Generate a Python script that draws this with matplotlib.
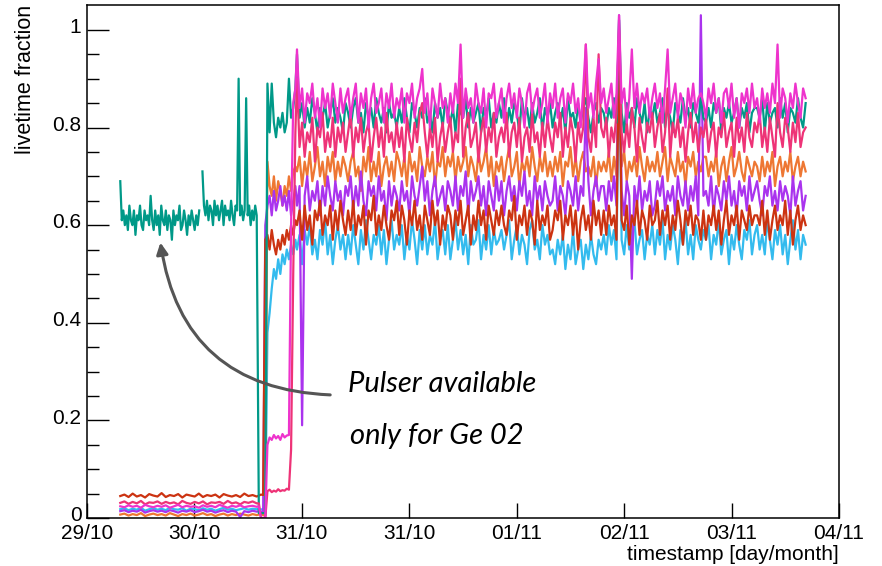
import numpy as np
import matplotlib

matplotlib.use("Agg")
import matplotlib.pyplot as plt
from matplotlib.transforms import ScaledTranslation

plt.rcParams["font.family"] = ["Liberation Sans", "DejaVu Sans"]

# x is measured in tick intervals (tick k sits at x = k)
tick_labels = ["29/10", "30/10", "31/10", "31/10", "01/11", "02/11", "03/11", "04/11"]

# time grids: before the pulser switch, the switch itself, steady running
t_low = np.linspace(0.31, 1.58, 34)
t_mid = np.linspace(1.60, 1.94, 18)
t_main = np.linspace(1.955, 6.69, 200)
t_ge02_a = np.linspace(0.31, 1.045, 53)
t_ge02_b = np.linspace(1.075, 1.58, 37)

# Ge 02 (teal) before the switch, hundredths
ge02_a = ("69 61 63 60 62 59 64 61 60 63 58 62 61 64 60 59 63 61 62 60 "
          "66 61 59 63 60 62 58 64 61 60 63 59 62 61 57 63 60 62 61 64 "
          "59 60 63 61 58 62 60 63 61 59 62 60 63")
ge02_b = ("71 64 62 65 61 64 63 60 65 62 64 61 63 65 60 64 62 63 61 65 "
          "62 60 64 63 90 62 64 61 63 86 62 64 60 63 61 64 62")

# other channels before the switch, thousandths
low = {
    "red": "45 48 43 50 44 47 42 49 46 44 51 43 47 45 49 42 48 46 44 50 43 47 45 48 42 49 46 44 47 43 50 45 47 44",
    "rose": "31 34 29 33 30 35 28 32 31 34 29 33 30 32 28 35 31 29 33 30 34 28 32 31 33 29 35 30 32 28 33 31 34 30",
    "magenta": "24 22 26 23 25 21 27 24 22 25 23 26 21 24 27 22 25 23 24 21 26 23 25 22 27 24 21 25 23 26 22 24 25 23",
    "cyan": "18 20 16 19 17 21 15 18 20 17 19 16 21 18 17 20 15 19 18 16 20 17 19 15 18 21 17 19 16 18 20 17 19 18",
    "purple": "14 16 12 15 13 17 11 14 16 13 15 12 16 14 11 15 13 16 12 14 17 13 15 11 14 16 12 15 13 2 14 12 15 13",
    "orange": "7 9 5 8 6 10 4 7 9 6 8 5 10 7 4 8 6 9 5 7 10 6 8 4 7 9 5 8 6 9 7 5 8 6",
}

# switch period, hundredths
mid = {
    "teal": "1 1 1 1 89 79 89 81 78 82 80 83 79 81 90 82 84 88",
    "cyan": "1.8 1.7 1.9 0.5 38 42 47 51 49 53 50 54 52 55 53 56 54 57",
    "purple": "1.4 1.3 1.2 60 64 66 62 67 63 65 68 64 66 63 67 62 65 68",
    "orange": "0.7 0.8 0.6 0.5 73 68 66 70 65 69 67 64 68 66 70 67 71 72",
    "red": "4.6 4.8 4.7 57 58 55 59 56 54 57 55 58 56 59 57 60 58 61",
    "rose": "3.0 0 0 0 5.5 5.8 5.3 5.6 5.4 5.9 5.5 5.7 5.6 6.0 5.8 14 50 79",
    "magenta": "2.4 0 0 0 15 16.5 16 17 16.3 16.8 16 17.2 16.5 16.9 17 60 85 88",
}

# steady running, hundredths
main = {
    "cyan": """
55 58 52 59 56 60 54 57 53 59 56 61 54 58 52 57 60 55 58 53
58 54 60 56 52 59 55 61 57 53 58 56 60 54 59 52 57 61 55 58
56 60 53 58 55 61 57 52 59 55 60 54 58 56 61 53 57 59 54 60
53 57 61 55 59 54 58 52 60 56 57 61 53 58 55 60 54 59 56 57
59 55 58 61 53 57 60 54 58 56 52 59 61 55 57 53 60 56 58 54
55 52 57 54 58 51 56 53 59 52 55 57 51 56 53 58 54 52 57 55
58 54 60 56 59 53 97 57 54 60 55 58 61 54 57 59 53 58 56 60
54 59 56 61 53 58 55 60 57 52 59 56 61 54 58 53 60 57 55 59
57 60 53 58 56 61 54 57 59 52 58 55 60 56 53 59 57 61 54 58
60 55 58 54 61 57 53 59 56 60 54 58 52 57 61 55 59 53 58 56""",
    "orange": """
71 74 68 73 70 75 69 72 76 70 73 68 74 71 75 69 73 70 74 72
69 73 75 70 72 67 74 71 76 69 73 70 75 68 72 74 70 73 69 75
73 70 74 68 75 71 73 69 76 72 70 74 71 75 68 73 72 76 70 74
72 75 69 74 71 73 76 70 74 72 69 75 71 73 76 70 74 68 73 71
74 69 73 76 70 72 75 68 73 71 74 70 76 72 69 74 71 75 70 73
70 74 71 75 68 73 72 76 70 74 69 73 75 71 72 70 74 68 73 71
73 71 75 69 74 70 98 72 75 69 73 71 74 70 76 72 69 74 71 73
71 75 70 73 76 69 74 72 70 75 71 73 68 74 72 75 70 73 71 74
74 70 73 71 75 68 72 74 69 73 76 70 72 75 71 69 74 72 70 73
72 69 74 70 73 71 75 68 72 74 70 73 71 75 69 72 74 70 73 71""",
    "purple": """
64 68 19 66 70 63 67 65 69 62 68 64 70 66 63 69 65 67 62 68
66 70 63 68 64 71 65 62 69 66 68 63 70 65 67 61 69 64 68 66
63 69 65 67 62 70 66 64 68 72 65 69 62 67 70 64 66 68 63 69
67 64 70 63 68 66 71 62 69 65 67 70 64 68 62 69 66 63 70 65
69 62 67 70 65 68 63 69 66 71 64 67 62 70 65 68 63 69 66 64
65 70 63 68 66 62 69 67 64 70 63 68 66 84 69 62 67 70 65 68
68 63 69 65 70 64 103 67 62 69 66 49 68 64 70 63 67 65 69 62
64 69 66 70 63 67 65 68 62 70 66 64 69 63 68 65 70 62 103 66
67 64 70 62 68 66 63 69 65 70 64 67 62 69 66 68 63 70 65 67
69 65 62 68 66 70 64 67 63 69 65 68 66 62 70 64 67 69 63 66""",
    "red": """
60 63 57 64 59 62 56 63 61 65 58 62 60 64 57 63 59 65 61 58
63 59 65 58 62 60 64 56 63 61 66 58 62 59 64 60 57 63 61 65
58 64 61 56 63 60 65 59 62 57 64 61 58 65 60 63 56 62 59 64
62 57 63 60 65 58 61 64 56 62 59 65 60 63 57 64 61 58 63 60
64 60 58 63 61 66 57 62 60 64 58 63 61 56 65 59 62 60 64 57
59 63 61 65 57 62 60 64 58 63 55 61 64 59 62 57 65 60 63 58
63 58 64 60 62 57 98 61 59 64 56 62 60 65 58 63 61 57 64 60
61 65 58 63 60 64 57 62 59 65 61 56 63 60 64 58 62 61 57 63
57 62 60 64 59 63 56 61 65 58 62 60 64 57 63 61 59 64 60 62
62 60 65 58 63 57 61 64 59 62 60 65 58 63 56 61 64 59 62 60""",
    "teal": """
95 82 85 80 84 81 86 83 79 84 82 85 80 83 86 81 84 82 79 85
83 80 84 86 81 83 79 85 82 84 80 86 83 81 84 79 85 82 83 80
84 81 86 82 79 85 83 80 84 82 86 81 83 79 85 82 84 80 86 83
81 84 79 85 83 82 86 80 84 81 83 85 79 84 82 86 80 83 81 85
82 86 80 84 81 85 83 79 86 82 84 80 85 81 83 86 79 84 82 85
80 83 85 81 84 79 86 82 83 80 85 81 84 86 82 79 83 85 81 84
83 80 84 82 86 81 102 83 79 85 82 84 80 86 83 81 85 79 84 82
85 81 83 86 80 84 82 79 85 83 81 86 82 84 80 85 83 81 86 82
81 84 80 85 83 86 79 84 82 85 81 83 86 80 84 82 85 79 83 84
84 82 86 79 85 81 83 84 80 86 82 85 79 84 83 81 86 82 80 85""",
    "rose": """
90 76 81 74 79 77 82 73 80 78 83 75 79 76 82 74 80 77 81 75
79 83 74 80 77 82 75 79 81 73 78 82 76 80 74 83 77 79 75 81
76 80 73 82 78 75 81 77 83 85 79 74 80 76 82 73 78 81 75 79
82 75 79 77 90 74 80 83 76 78 81 73 79 82 75 80 77 83 74 78
80 77 83 74 79 81 76 82 73 78 80 75 83 77 79 74 81 76 82 78
75 81 78 83 74 80 76 82 79 73 81 77 80 97 78 75 82 76 95 80
78 82 74 80 77 83 100 79 75 81 76 84 80 73 82 78 75 81 79 83
76 80 83 75 79 88 74 81 78 82 76 80 73 79 83 77 81 75 80 78
82 75 79 81 74 80 78 83 76 79 81 74 82 77 80 75 83 78 76 81
79 83 76 80 75 82 78 74 85 79 76 82 80 75 81 77 83 76 79 80""",
    "magenta": """
96 84 88 81 87 85 89 82 86 80 88 84 87 82 89 85 81 88 83 86
88 82 86 89 81 87 84 88 80 86 89 83 85 88 81 87 84 89 82 86
84 88 81 87 85 89 82 86 88 92 83 87 80 88 85 82 89 84 86 81
87 83 89 85 97 82 88 84 86 81 89 85 83 88 80 87 86 89 82 85
88 81 86 89 84 87 82 88 85 80 87 89 83 86 88 82 85 89 81 87
84 89 82 86 88 81 87 85 89 83 86 80 88 97 84 87 82 89 94 85
88 83 86 89 82 87 103 85 88 81 86 96 84 89 83 87 85 88 82 86
89 84 87 81 88 96 83 86 89 82 87 85 80 88 84 89 83 86 87 85
82 88 85 89 83 86 81 87 88 84 89 82 86 80 87 85 88 83 89 84
86 81 88 84 87 83 89 85 97 82 88 86 81 87 84 89 85 82 88 86""",
}

colors = {
    "cyan": "#33bbee",
    "orange": "#ee7733",
    "purple": "#aa33ee",
    "red": "#cc3311",
    "teal": "#009988",
    "rose": "#ee3377",
    "magenta": "#ee33cc",
}
draw_order = ["cyan", "orange", "purple", "red", "teal", "rose", "magenta"]


def nums(s, scale):
    return np.array(s.split(), dtype=float) / scale


fig = plt.figure(figsize=(8.82, 5.66), dpi=100)
ax = fig.add_axes([0.0986, 0.0848, 0.8526, 0.9064])

for name in draw_order:
    if name == "teal":
        t = np.concatenate([t_ge02_a, [np.nan], t_ge02_b, t_mid, t_main])
        v = np.concatenate([nums(ge02_a, 100), [np.nan], nums(ge02_b, 100),
                            nums(mid[name], 100), nums(main[name], 100)])
    else:
        t = np.concatenate([t_low, t_mid, t_main])
        v = np.concatenate([nums(low[name], 1000), nums(mid[name], 100),
                            nums(main[name], 100)])
    ax.plot(t, v, color=colors[name], lw=1.6)

ax.set_xlim(0, 7)
ax.set_ylim(0, 1.051)
ax.set_xticks(range(len(tick_labels)))
ax.set_xticklabels(tick_labels)
ax.set_yticks([0, 0.2, 0.4, 0.6, 0.8, 1.0])
ax.set_yticklabels(["0", "0.2", "0.4", "0.6", "0.8", "1"])
ax.set_yticks(np.arange(0, 1.05, 0.05), minor=True)
ax.tick_params(axis="x", direction="in", length=11, width=1, labelsize=15, pad=4,
               top=False)
ax.tick_params(axis="y", which="major", direction="in", length=16, width=1,
               labelsize=15, pad=4, right=False)
ax.tick_params(axis="y", which="minor", direction="in", length=8.5, width=1,
               right=False)
for sp in ax.spines.values():
    sp.set_linewidth(1.1)

# ROOT draws the y labels sitting a touch above their ticks
lift = ScaledTranslation(0, 3 / 72, fig.dpi_scale_trans)
for lab in ax.get_yticklabels():
    lab.set_transform(lab.get_transform() + lift)

fig.text(0.029, 0.991, "livetime fraction", rotation=90, ha="center", va="top",
         fontsize=15.5)
fig.text(0.9512, 0.003, "timestamp [day/month]", ha="right", va="bottom",
         fontsize=15)

ax.annotate("", xy=(0.68, 0.57), xytext=(2.29, 0.252),
            arrowprops=dict(arrowstyle="-|>", color="#555555", lw=2.2,
                            mutation_scale=17,
                            connectionstyle="arc3,rad=-0.42"))
ax.text(2.43, 0.258, "Pulser available", family=["Lato", "DejaVu Sans"],
        style="italic", fontsize=21, va="baseline", ha="left")
ax.text(2.45, 0.152, "only for Ge 02", family=["Lato", "DejaVu Sans"],
        style="italic", fontsize=21, va="baseline", ha="left")

fig.savefig("out.png", dpi=100)
